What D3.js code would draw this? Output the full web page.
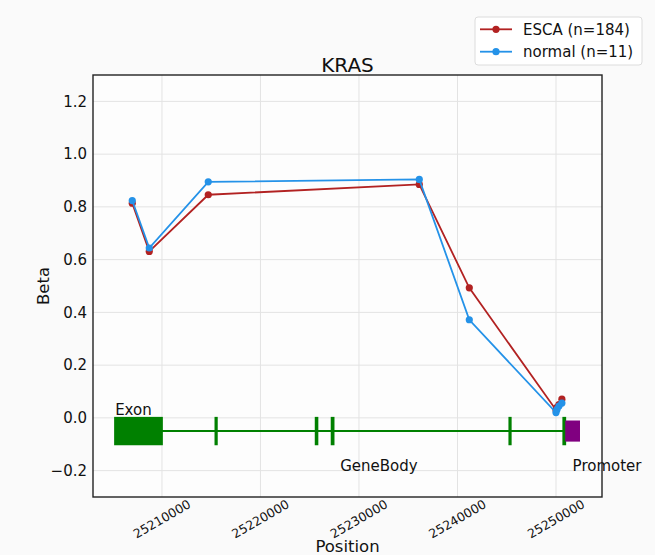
<!DOCTYPE html>
<html>
<head>
<meta charset="utf-8">
<script src="https://cdn.jsdelivr.net/npm/d3@7"></script>
<style>
  body { margin: 0; background: #fafafa; }
  text { font-family: "DejaVu Sans", sans-serif; fill: #111; }
</style>
</head>
<body>
<svg id="chart" width="655" height="555"></svg>
<script>
// probe positions and beta values
const probePos = [25206985, 25208711, 25214700, 25236122, 25241198, 25250000, 25250100, 25250300, 25250600];
const escaBeta = [0.814, 0.631, 0.846, 0.885, 0.493, 0.030, 0.040, 0.050, 0.071];
const normalBeta = [0.824, 0.644, 0.895, 0.904, 0.372, 0.020, 0.032, 0.045, 0.056];

// gene model (KRAS)
const geneBody = [25205246, 25250936];
const exons = [[25205246, 25209990], [25215437, 25215560], [25225614, 25225773],
               [25227234, 25227412], [25245274, 25245395], [25250751, 25250929]];
const promoter = [25250936, 25252436];

const xTicks = [25210000, 25220000, 25230000, 25240000, 25250000];
const yTicks = [-0.2, 0.0, 0.2, 0.4, 0.6, 0.8, 1.0, 1.2];

const series = [
    { name: 'ESCA (n=184)', values: escaBeta, color: '#b22222' },
    { name: 'normal (n=11)', values: normalBeta, color: '#2492e8' }
];

const margin = { left: 93, right: 53, top: 75, bottom: 58 };
const width = 655, height = 555;

const svg = d3.select('#chart');

const x = d3.scaleLinear()
    .domain([25203000, 25254670])
    .range([margin.left, width - margin.right]);
const y = d3.scaleLinear()
    .domain([-0.3, 1.3])
    .range([height - margin.bottom, margin.top]);

// axes background
svg.append('rect')
    .attr('x', margin.left).attr('y', margin.top)
    .attr('width', x.range()[1] - margin.left)
    .attr('height', y.range()[0] - margin.top)
    .attr('fill', '#fdfdfd');

// grid
svg.append('g').selectAll('line.vx').data(xTicks).enter().append('line')
    .attr('x1', d => x(d)).attr('x2', d => x(d))
    .attr('y1', margin.top).attr('y2', y.range()[0])
    .attr('stroke', '#e3e3e3').attr('stroke-width', 1);
svg.append('g').selectAll('line.hy').data(yTicks).enter().append('line')
    .attr('x1', margin.left).attr('x2', x.range()[1])
    .attr('y1', d => y(d)).attr('y2', d => y(d))
    .attr('stroke', '#e3e3e3').attr('stroke-width', 1);

// gene model
const green = '#008000';
const midY = -0.05;
svg.append('line')
    .attr('x1', x(geneBody[0])).attr('x2', x(geneBody[1]))
    .attr('y1', y(midY)).attr('y2', y(midY))
    .attr('stroke', green).attr('stroke-width', 2);
svg.append('g').selectAll('rect').data(exons).enter().append('rect')
    .attr('x', d => x(d[0]))
    .attr('width', d => x(d[1]) - x(d[0]))
    .attr('y', y(0)).attr('height', y(-0.1) - y(0))
    .attr('fill', green).attr('stroke', green).attr('stroke-width', 2);
svg.append('rect')
    .attr('x', x(promoter[0])).attr('width', x(promoter[1]) - x(promoter[0]))
    .attr('y', y(-0.01)).attr('height', y(-0.09) - y(-0.01))
    .attr('fill', '#800080');

svg.append('text').attr('x', x(geneBody[0])).attr('y', y(0.01))
    .attr('font-size', 15).text('Exon');
svg.append('text').attr('x', x((geneBody[0] + geneBody[1]) / 2)).attr('y', y(-0.2))
    .attr('font-size', 15).text('GeneBody');
svg.append('text').attr('x', x((promoter[0] + promoter[1]) / 2)).attr('y', y(-0.2))
    .attr('font-size', 15).text('Promoter');

// series
const line = d3.line().x((d, i) => x(probePos[i])).y(d => y(d));
series.forEach(s => {
    svg.append('path')
        .datum(s.values)
        .attr('d', line)
        .attr('fill', 'none')
        .attr('stroke', s.color)
        .attr('stroke-width', 1.8);
    svg.append('g').selectAll('circle').data(s.values).enter().append('circle')
        .attr('cx', (d, i) => x(probePos[i]))
        .attr('cy', d => y(d))
        .attr('r', 3.6)
        .attr('fill', s.color);
});

// frame
svg.append('rect')
    .attr('x', margin.left).attr('y', margin.top)
    .attr('width', x.range()[1] - margin.left)
    .attr('height', y.range()[0] - margin.top)
    .attr('fill', 'none').attr('stroke', '#222').attr('stroke-width', 1.4);

// tick labels
svg.append('g').selectAll('text').data(yTicks).enter().append('text')
    .attr('x', margin.left - 6).attr('y', d => y(d))
    .attr('dy', '0.35em')
    .attr('text-anchor', 'end')
    .attr('font-size', 15)
    .text(d3.format('.1f'));
svg.append('g').selectAll('text').data(xTicks).enter().append('text')
    .attr('transform', d => `translate(${x(d)}, ${y.range()[0] + 22}) rotate(-30)`)
    .attr('text-anchor', 'middle')
    .attr('dy', '0.35em')
    .attr('font-size', 12.5)
    .text(d => d);

// labels
svg.append('text').attr('x', (margin.left + x.range()[1]) / 2).attr('y', 72)
    .attr('text-anchor', 'middle').attr('font-size', 20).text('KRAS');
svg.append('text').attr('x', (margin.left + x.range()[1]) / 2).attr('y', 552)
    .attr('text-anchor', 'middle').attr('font-size', 16.5).text('Position');
svg.append('text')
    .attr('transform', `translate(49, ${(margin.top + y.range()[0]) / 2}) rotate(-90)`)
    .attr('text-anchor', 'middle').attr('font-size', 16.5).text('Beta');

// legend
const lg = svg.append('g').attr('transform', 'translate(475, 17)');
lg.append('rect').attr('width', 167).attr('height', 48).attr('rx', 3)
    .attr('fill', '#ffffff').attr('stroke', '#dcdcdc');
series.forEach((s, i) => {
    const yy = 12.3 + i * 22.4;
    lg.append('line').attr('x1', 5).attr('x2', 37).attr('y1', yy).attr('y2', yy)
        .attr('stroke', s.color).attr('stroke-width', 1.8);
    lg.append('circle').attr('cx', 21).attr('cy', yy).attr('r', 3.6).attr('fill', s.color);
    lg.append('text').attr('x', 48).attr('y', yy).attr('dy', '0.35em')
        .attr('font-size', 15).text(s.name);
});
</script>
</body>
</html>
